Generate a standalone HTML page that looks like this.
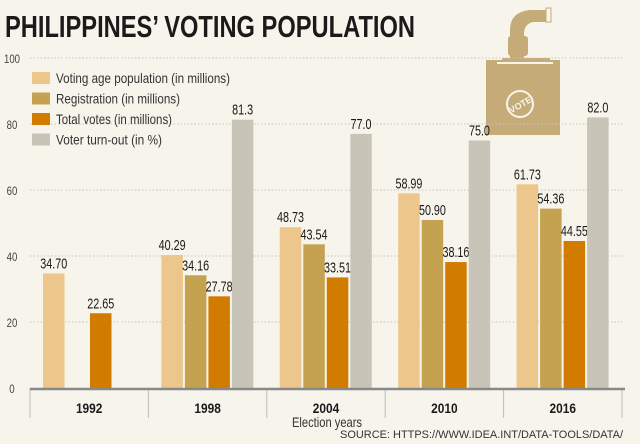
<!DOCTYPE html>
<html><head><meta charset="utf-8"><style>
body{margin:0;background:#f7f4ec;}
svg{display:block;font-family:"Liberation Sans Narrow","Liberation Sans",sans-serif;}
</style></head><body>
<svg width="640" height="444" viewBox="0 0 640 444">
<rect width="640" height="444" fill="#f7f4ec"/>
<text x="5" y="37" font-size="31" font-weight="bold" fill="#1a1a1a" textLength="410" lengthAdjust="spacingAndGlyphs">PHILIPPINES’ VOTING POPULATION</text>
<g>
<path d="M510 58 L510 30 Q510 12 530 10 L548 10 L548 22 L533 22 Q524 24 524 34 L524 58 Z" fill="#c4ab78"/>
<rect x="508" y="36" width="20" height="20" rx="3" fill="#c4ab78"/>
<rect x="546" y="8" width="5" height="14" fill="#f7f4ec" stroke="#c4ab78" stroke-width="1"/>
<rect x="502" y="58" width="48" height="6" fill="#c4ab78"/>
<rect x="486" y="60" width="74" height="75" fill="#c4ab78"/>
<rect x="497" y="62" width="56" height="2" fill="#f7f4ec"/>
<circle cx="520" cy="104" r="13" fill="none" stroke="#f7f4ec" stroke-width="2"/>
<text x="520" y="108" font-size="9" font-weight="bold" fill="#f7f4ec" text-anchor="middle" transform="rotate(-30 520 104)">VOTE</text>
</g>
<g id="grid"></g>
<g id="bars"></g>
<g id="legend"></g>
</svg>
<script>
const years=["1992","1998","2004","2010","2016"];
const votingAge=[34.70,40.29,48.73,58.99,61.73];
const registration=[null,34.16,43.54,50.90,54.36];
const totalVotes=[22.65,27.78,33.51,38.16,44.55];
const turnout=[null,81.3,77.0,75.0,82.0];
const yTicks=[0,20,40,60,80,100];
const seriesNames=["Voting age population (in millions)","Registration (in millions)","Total votes (in millions)","Voter turn-out (in %)"];
const colors=["#ecc68a","#c4a24f","#d17c00","#c8c5b8"];
const NS="http://www.w3.org/2000/svg";
const x0=30,x1=622,y0=388,pxPer=3.3;
const yS=v=>y0-v*pxPer;
const gw=(x1-x0)/years.length;
const grid=document.getElementById('grid'),bars=document.getElementById('bars'),leg=document.getElementById('legend');
function mk(tag,attrs,parent){const e=document.createElementNS(NS,tag);for(const k in attrs)e.setAttribute(k,attrs[k]);parent.appendChild(e);return e;}
function narrow(t,f){const w=t.getComputedTextLength();t.setAttribute('textLength',(w*f).toFixed(1));t.setAttribute('lengthAdjust','spacingAndGlyphs');}
yTicks.forEach(t=>{
 if(t>0){const l=mk('line',{x1:x0,x2:625,y1:yS(t),y2:yS(t),stroke:'#c9c6bc','stroke-dasharray':'1.5 2','stroke-width':1},grid);
 
 }
 const tx=mk('text',{x:12,y:yS(t)+5,'font-size':12,fill:'#444','text-anchor':'middle'},grid);tx.textContent=t;
 
 
 narrow(tx,0.8);
});
const series=[votingAge,registration,totalVotes,turnout];
years.forEach((yr,i)=>{
 const gx=x0+i*gw;
 series.forEach((s,j)=>{
  const v=s[i]; if(v==null)return;
  const bx=gx+13+j*23.5;
  const r=mk('rect',{x:bx,y:yS(v),width:21.5,height:v*pxPer,fill:colors[j]},bars);
  
  
  const t=mk('text',{x:bx+10.75,y:yS(v)-5,'font-size':15,fill:'#1a1a1a','text-anchor':'middle'},bars);
  t.textContent=j==3?v.toFixed(1):v.toFixed(2);
  
  
  narrow(t,0.72);
 });
 const yl=mk('text',{x:gx+gw/2,y:413,'font-size':14,'font-weight':'bold',fill:'#1a1a1a','text-anchor':'middle'},bars);yl.textContent=yr;
 
 
 narrow(yl,0.85);
});
for(let i=0;i<=years.length;i++){const gx=x0+i*gw;const l=mk('line',{x1:gx,x2:gx,y1:y0,y2:418,stroke:'#bbb','stroke-width':1},bars);
 
 }
const ax=mk('line',{x1:x0,x2:625,y1:y0+1,y2:y0+1,stroke:'#888','stroke-width':2.5},bars);


const xt=mk('text',{x:327,y:427,'font-size':14,fill:'#333','text-anchor':'middle'},bars);xt.textContent='Election years';


xt.setAttribute('textLength','70');
xt.setAttribute('lengthAdjust','spacingAndGlyphs');
const src=mk('text',{x:623,y:438,'font-size':11,fill:'#333','text-anchor':'end'},bars);src.textContent='SOURCE: HTTPS://WWW.IDEA.INT/DATA-TOOLS/DATA/';


src.setAttribute('textLength','283');
src.setAttribute('lengthAdjust','spacingAndGlyphs');
const legW=[174,124,116,106];
seriesNames.forEach((n,j)=>{
 const y=72+j*20.5;
 const r=mk('rect',{x:32,y:y,width:18,height:12,fill:colors[j]},leg);
 
 
 const t=mk('text',{x:56,y:y+11,'font-size':14,fill:'#333',textLength:legW[j],lengthAdjust:'spacingAndGlyphs'},leg);t.textContent=n;
 
 
});
</script>
</body></html>
